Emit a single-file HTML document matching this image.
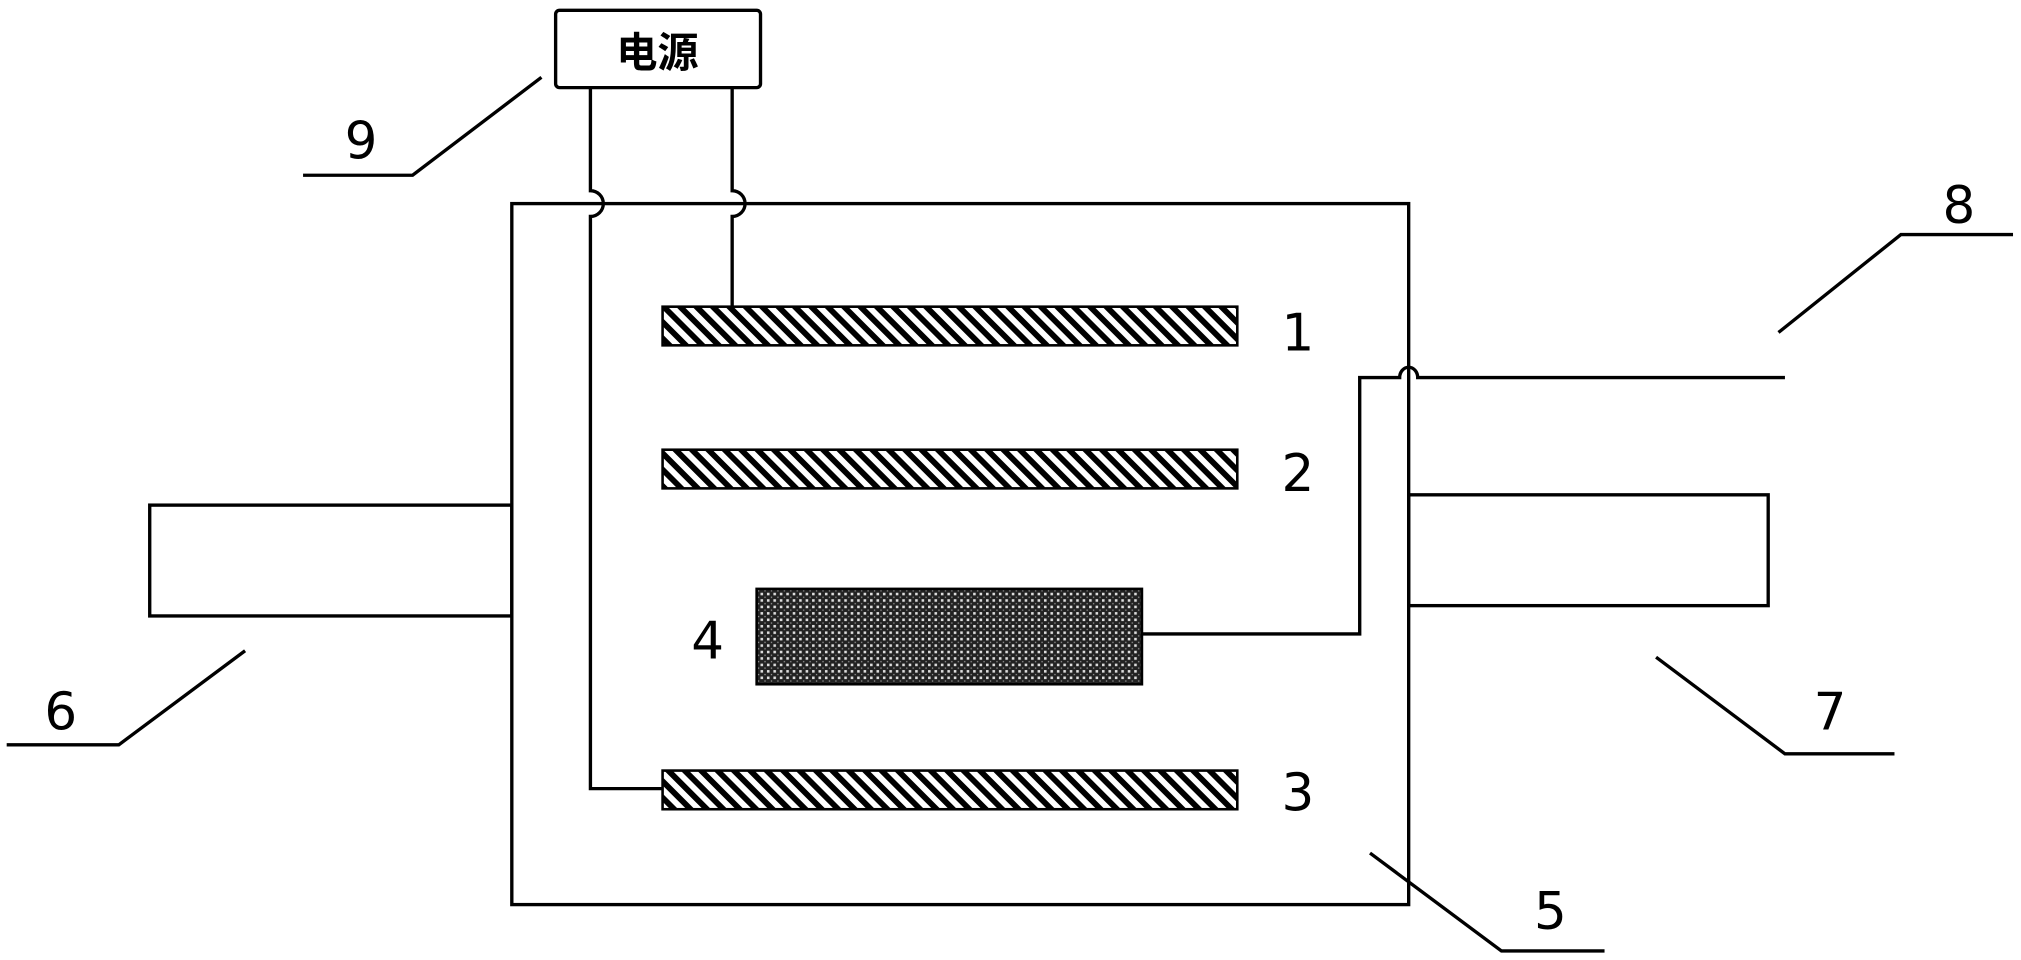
<!DOCTYPE html>
<html><head><meta charset="utf-8"><style>html,body{margin:0;padding:0;background:#fff}svg{display:block}</style></head>
<body>
<svg width="2021" height="960" viewBox="0 0 1568 745" xmlns="http://www.w3.org/2000/svg">
<defs>
<pattern id="h" width="9" height="9" patternUnits="userSpaceOnUse" patternTransform="rotate(45)">
<rect width="9" height="9" fill="#fff"/><rect width="9" height="4.5" fill="#000"/>
</pattern>
<pattern id="d" width="5" height="5" patternUnits="userSpaceOnUse">
<rect width="5" height="5" fill="#222"/><rect x="0" y="0" width="2" height="2" fill="#ddd"/><rect x="3" y="3" width="1" height="1" fill="#999"/>
</pattern>
</defs>
<g fill="none" stroke="#000" stroke-width="2.6">
<rect x="431" y="8" width="159" height="60" rx="3"/>
<rect x="397" y="158" width="696" height="544"/>
<rect x="116" y="392" width="281" height="86"/>
<rect x="1093" y="384" width="279" height="86"/>
<path d="M458 68 V148 A10 10 0 0 1 458 168 V612 H514"/>
<path d="M568 68 V148 A10 10 0 0 1 568 168 V238"/>
<path d="M886 492 H1055 V293 H1086 A7 8 0 0 1 1100 293 H1385"/>
<path d="M235 136 H320 L420 60"/>
<path d="M1380 258 L1475 182 H1562"/>
<path d="M1285 510 L1385 585 H1470"/>
<path d="M190 505 L92 578 H5"/>
<path d="M1063 662 L1165 738 H1245"/>
</g>
<g stroke="#000" stroke-width="2">
<rect x="514" y="238" width="446" height="30" fill="url(#h)"/>
<rect x="514" y="349" width="446" height="30" fill="url(#h)"/>
<rect x="514" y="598" width="446" height="30" fill="url(#h)"/>
<rect x="587" y="457" width="299" height="74" fill="url(#d)"/>
</g>
<g font-family="DejaVu Sans, Liberation Sans, sans-serif" font-size="40" text-anchor="middle">
<text x="510" y="52" font-size="32" font-weight="bold" font-family="Liberation Sans, Noto Sans CJK SC, sans-serif">电源</text>
<text x="1007" y="272">1</text>
<text x="1007" y="381">2</text>
<text x="1007" y="629">3</text>
<text x="549" y="511">4</text>
<text x="1203" y="721">5</text>
<text x="47" y="566">6</text>
<text x="1420" y="566">7</text>
<text x="1520" y="173">8</text>
<text x="280" y="123">9</text>
</g>
</svg>
</body></html>
